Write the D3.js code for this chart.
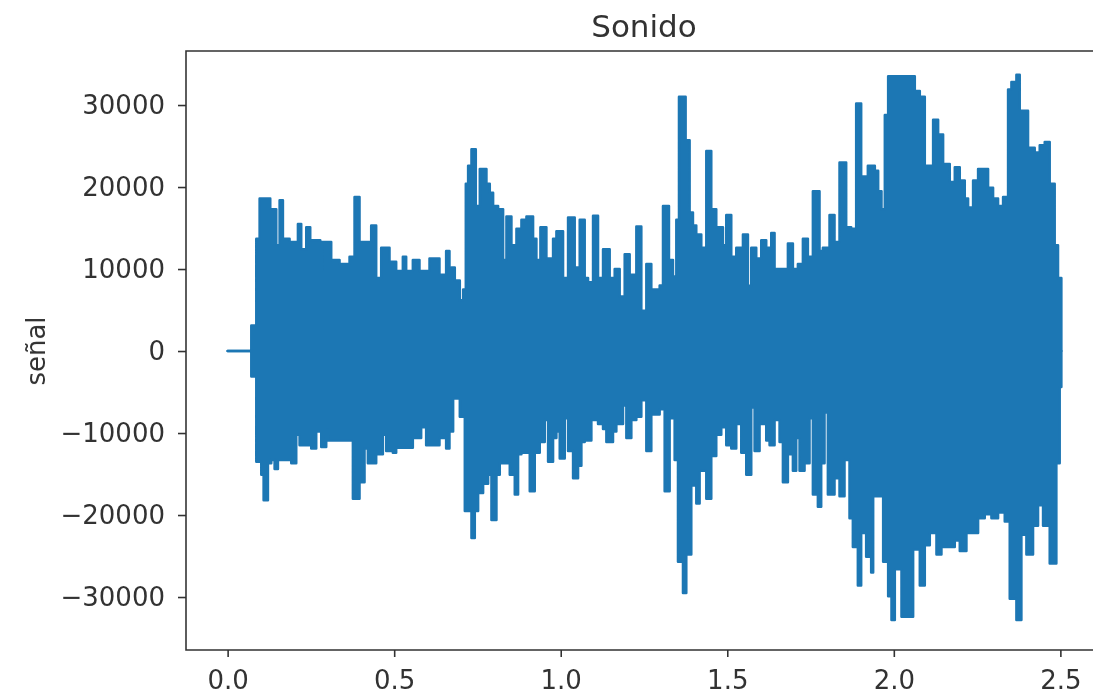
<!DOCTYPE html>
<html>
<head>
<meta charset="utf-8">
<script src="https://cdn.jsdelivr.net/npm/d3@7"></script>
<style>
  html, body { margin: 0; background: #fff; overflow: hidden; }
  svg { display: block; }
  text { font-family: "DejaVu Sans", sans-serif; fill: #333; }
</style>
</head>
<body>
<div id="chart"></div>
<script>
// upper envelope of the signal (time in s, peak value)
const upperTime = [0, 0.071, 0.086, 0.096, 0.128, 0.146, 0.156, 0.166, 0.186, 0.211, 0.221, 0.236, 0.248, 0.266, 0.278, 0.283, 0.296, 0.311, 0.336, 0.366, 0.381, 0.396, 0.431, 0.446, 0.461, 0.486, 0.506, 0.526, 0.536, 0.556, 0.576, 0.606, 0.636, 0.656, 0.666,
  0.672, 0.682, 0.697, 0.707, 0.715, 0.722, 0.732, 0.745, 0.757, 0.777, 0.787, 0.797, 0.812, 0.827, 0.837, 0.852, 0.867, 0.882, 0.897, 0.917, 0.927, 0.939, 0.957, 0.977, 0.987, 1.007, 1.022, 1.042, 1.057, 1.072, 1.082, 1.097, 1.112, 1.127, 1.147, 1.162, 1.177, 1.192, 1.207, 1.227, 1.242, 1.257, 1.272, 1.297,
  1.307, 1.325, 1.337, 1.347, 1.355, 1.375, 1.387, 1.397, 1.407, 1.422, 1.437, 1.452, 1.467, 1.487, 1.497, 1.512, 1.527, 1.547, 1.562, 1.572, 1.587, 1.602, 1.617, 1.632, 1.642, 1.682, 1.697, 1.712, 1.727, 1.742, 1.757, 1.777, 1.787, 1.807, 1.822, 1.837, 1.857, 1.872, 1.887, 1.902, 1.922,
  1.943, 1.953, 1.963, 1.973, 1.983, 2.063, 2.078, 2.093, 2.118, 2.133, 2.148, 2.168, 2.183, 2.198, 2.213, 2.223, 2.238, 2.253, 2.283, 2.298, 2.313, 2.328, 2.343, 2.353, 2.368, 2.378, 2.403, 2.423, 2.438, 2.453, 2.468, 2.483, 2.493, 2.503];
const upperPeak = [0, 3100, 13700, 18600, 17300, 12900, 18400, 13700, 13300, 15500, 12400, 15100, 13500, 13500, 9800, 13300, 13300, 11100, 10600, 11500, 18800, 13300, 15300, 8900, 12600, 10900, 9750, 11500, 9750, 11100, 9750, 11300, 9300, 12200, 8900,
  10200, 8600, 6200, 7500, 20400, 22600, 24600, 17700, 22200, 20400, 19300, 17700, 17300, 11100, 16400, 12900, 14900, 16000, 16400, 13700, 11100, 15100, 11300, 13700, 14600, 8900, 16300, 10200, 16000, 8900, 8400, 16500, 8900, 12400, 8900, 10000, 6650, 11800, 9300, 15200, 4900, 10600, 7500, 8000,
  17700, 11100, 9100, 16000, 31000, 25700, 16900, 15300, 14200, 12600, 24400, 17300, 15100, 12900, 16600, 11500, 12600, 14200, 7950, 12600, 11300, 13500, 12600, 14400, 10000, 13100, 10000, 10600, 13700, 11500, 19500, 12200, 12600, 16600, 13300, 23000, 15100, 14900, 30200, 21300, 22600,
  22000, 19500, 17300, 28800, 33500, 31700, 31000, 22600, 28200, 26400, 22800, 20600, 22400, 20800, 18600, 17500, 20800, 22200, 19900, 18600, 17700, 18800, 31900, 32800, 33700, 29300, 24800, 24200, 25100, 25500, 20400, 12900, 8900, 4400];

// lower envelope of the signal
const lowerTime = [0, 0.071, 0.086, 0.101, 0.108, 0.121, 0.131, 0.141, 0.151, 0.191, 0.206, 0.216, 0.251, 0.266, 0.281, 0.296, 0.301, 0.376, 0.396, 0.411, 0.421, 0.446, 0.466, 0.476, 0.496, 0.506, 0.556, 0.581, 0.596, 0.636, 0.656, 0.666,
  0.677, 0.697, 0.712, 0.732, 0.742, 0.752, 0.767, 0.782, 0.792, 0.807, 0.817, 0.847, 0.862, 0.872, 0.882, 0.907, 0.922, 0.937, 0.952, 0.962, 0.977, 0.987, 0.997, 1.012, 1.022, 1.037, 1.052, 1.062, 1.072, 1.092, 1.112, 1.127, 1.137, 1.157, 1.167, 1.187, 1.197, 1.212, 1.227, 1.242, 1.257, 1.272,
  1.297, 1.312, 1.327, 1.342, 1.352, 1.367, 1.377, 1.392, 1.407, 1.417, 1.437, 1.452, 1.467, 1.482, 1.497, 1.512, 1.527, 1.542, 1.557, 1.572, 1.582, 1.597, 1.617, 1.627, 1.642, 1.657, 1.667, 1.682, 1.697, 1.707, 1.717, 1.732, 1.747, 1.757, 1.772, 1.782, 1.792, 1.802, 1.822, 1.837, 1.852, 1.867, 1.877, 1.892, 1.902, 1.917, 1.932,
  1.938, 1.968, 1.983, 1.993, 2.003, 2.023, 2.058, 2.078, 2.093, 2.108, 2.128, 2.143, 2.183, 2.198, 2.218, 2.253, 2.273, 2.293, 2.313, 2.333, 2.348, 2.368, 2.383, 2.398, 2.418, 2.433, 2.448, 2.468, 2.488, 2.498, 2.503];
const lowerPeak = [0, -3100, -13500, -15100, -18200, -13700, -13300, -14400, -13300, -13700, -10200, -11500, -11900, -9800, -11700, -9600, -10900, -18000, -16000, -11900, -13700, -12600, -10200, -12200, -12400, -11800, -10600, -9300, -11500, -10600, -11900, -9800,
  -5800, -8000, -19500, -22800, -19500, -17300, -16200, -15100, -20600, -15100, -13700, -15100, -17500, -12600, -12400, -17100, -12400, -11100, -8400, -13500, -10600, -9800, -13100, -8200, -12200, -15500, -14000, -11100, -10900, -8400, -8900, -9500, -11100, -9800, -8900, -6650, -10600, -8400, -8000, -6000, -12200, -7750,
  -7100, -17100, -8200, -13300, -25700, -29500, -24800, -16400, -18600, -14600, -18000, -12800, -10200, -9300, -11500, -11900, -8900, -12400, -15100, -6900, -12200, -8900, -10900, -11500, -8400, -11100, -16000, -12600, -14600, -10600, -14600, -13700, -8200, -17500, -19000, -13700, -7500, -17500, -15500, -17700, -13300, -20400, -23900, -28600, -22200, -25100, -27000,
  -17700, -25700, -29900, -32800, -26600, -32400, -24200, -28600, -23700, -22200, -24800, -23900, -23100, -24400, -22200, -20400, -19900, -20400, -19700, -20800, -30200, -32800, -22400, -24800, -21300, -18800, -21300, -25900, -13700, -4400, 0];

const xTicks = [0.0, 0.5, 1.0, 1.5, 2.0, 2.5];
const yTicks = [-30000, -20000, -10000, 0, 10000, 20000, 30000];

const width = 1093;
const height = 700;
const margin = {top: 51, right: -9, bottom: 50, left: 186};

const svg = d3.select("#chart")
    .append("svg")
    .attr("width", width)
    .attr("height", height);

// the reference is a slightly soft, upscaled image
svg.append("defs").append("filter")
    .attr("id", "soft")
    .append("feGaussianBlur")
    .attr("stdDeviation", 0.6);

const root = svg.append("g").attr("filter", "url(#soft)");

const x = d3.scaleLinear()
    .domain([-0.125, 2.625])
    .range([margin.left, width - margin.right]);

const y = d3.scaleLinear()
    .domain([-36460, 36590])
    .range([height - margin.bottom, margin.top]);

const upper = upperTime.map((t, i) => ({t: t, v: upperPeak[i]}));
const lower = lowerTime.map((t, i) => ({t: t, v: lowerPeak[i]}));

const area = d3.area()
    .x(d => x(d.t))
    .y0(y(0))
    .y1(d => y(d.v))
    .curve(d3.curveStepAfter);

[upper, lower].forEach(series => {
    root.append("path")
        .datum(series)
        .attr("d", area)
        .attr("fill", "#1f77b4")
        .attr("stroke", "#1f77b4")
        .attr("stroke-width", 2.5)
        .attr("stroke-linejoin", "round");
});

// axes
const xAxis = g => g
    .attr("transform", `translate(0,${height - margin.bottom})`)
    .call(d3.axisBottom(x)
        .tickValues(xTicks)
        .tickFormat(d3.format(".1f"))
        .tickSize(7)
        .tickPadding(14))
    .call(g => g.select(".domain").remove());

const yAxis = g => g
    .attr("transform", `translate(${margin.left},0)`)
    .call(d3.axisLeft(y)
        .tickValues(yTicks)
        .tickFormat(d => d < 0 ? "\u2212" + Math.abs(d) : String(d))
        .tickSize(8)
        .tickPadding(13))
    .call(g => g.select(".domain").remove());

root.append("g").call(xAxis);
root.append("g").call(yAxis);

root.selectAll(".tick line")
    .attr("stroke", "#333")
    .attr("stroke-width", 1.6);
root.selectAll(".tick text")
    .attr("font-size", 26)
    .attr("fill", "#333")
    .attr("font-family", "DejaVu Sans");

// chart border (the right side falls outside the picture)
root.append("path")
    .attr("d", `M${width},${margin.top}H${margin.left}V${height - margin.bottom}H${width}`)
    .attr("fill", "none")
    .attr("stroke", "#333")
    .attr("stroke-width", 1.6);

// title
root.append("text")
    .attr("x", (margin.left + width - margin.right) / 2)
    .attr("y", 37)
    .attr("text-anchor", "middle")
    .attr("font-size", 31)
    .text("Sonido");

// y label
root.append("text")
    .attr("transform", `translate(45,${y(0)}) rotate(-90)`)
    .attr("text-anchor", "middle")
    .attr("font-size", 26)
    .text("señal");
</script>
</body>
</html>
